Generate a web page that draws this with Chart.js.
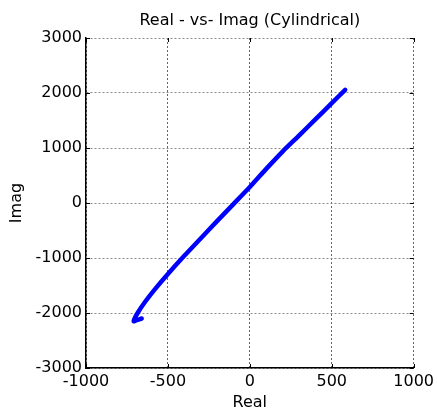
<!DOCTYPE html>
<html>
<head>
<meta charset="utf-8">
<title>Real - vs- Imag (Cylindrical)</title>
<script src="https://cdn.jsdelivr.net/npm/chart.js@4/dist/chart.umd.min.js"></script>
<style>
  html, body { margin: 0; padding: 0; background: #fff; }
  #wrap { width: 438px; height: 415px; }
</style>
</head>
<body>
<div id="wrap"><canvas id="plot"></canvas></div>
<script>
// trace of the complex response, real part vs imaginary part
const realValues = [582, 500, 400, 300, 200, 100, 0, -100, -200, -300, -400, -500, -580, -640, -685, -709, -690, -660];
const imagValues = [2057, 1815, 1520, 1225, 935, 620, 290, -20, -330, -645, -960, -1290, -1570, -1800, -2000, -2150, -2130, -2100];

const xTicks = [-1000, -500, 0, 500, 1000];
const yTicks = [-3000, -2000, -1000, 0, 1000, 2000, 3000];

const points = realValues.map((x, i) => ({ x, y: imagValues[i] }));

Chart.defaults.font.family = "'DejaVu Sans', sans-serif";
Chart.defaults.font.size = 16;
Chart.defaults.color = '#000';

// small inward tick marks on every side of the box
const innerTicks = {
  id: 'innerTicks',
  afterDraw(chart) {
    const { ctx, chartArea: a, scales: { x, y } } = chart;
    const len = 4;
    ctx.save();
    ctx.strokeStyle = '#000';
    ctx.lineWidth = 1;
    ctx.beginPath();
    x.ticks.forEach(t => {
      const px = Math.round(x.getPixelForValue(t.value)) + 0.5;
      ctx.moveTo(px, a.bottom); ctx.lineTo(px, a.bottom - len);
      ctx.moveTo(px, a.top); ctx.lineTo(px, a.top + len);
    });
    y.ticks.forEach(t => {
      const py = Math.round(y.getPixelForValue(t.value)) + 0.5;
      ctx.moveTo(a.left, py); ctx.lineTo(a.left + len, py);
      ctx.moveTo(a.right, py); ctx.lineTo(a.right - len, py);
    });
    ctx.stroke();
    ctx.restore();
  }
};

const plainNumber = v => String(v);

new Chart(document.getElementById('plot'), {
  type: 'scatter',
  data: {
    datasets: [{
      data: points,
      showLine: true,
      borderColor: '#0000ff',
      backgroundColor: '#0000ff',
      borderWidth: 4.5,
      borderCapStyle: 'round',
      borderJoinStyle: 'round',
      pointRadius: 0,
      tension: 0.2,
    }],
  },
  options: {
    responsive: true,
    maintainAspectRatio: false,
    animation: false,
    layout: { padding: { top: 0, right: 20, bottom: 0, left: 0 } },
    plugins: {
      legend: { display: false },
      tooltip: { enabled: false },
      title: {
        display: true,
        fullSize: false,
        text: 'Real - vs- Imag (Cylindrical)',
        font: { size: 16, weight: 'normal' },
        color: '#000',
        padding: { top: 11, bottom: 7.8 },
      },
    },
    scales: {
      x: {
        type: 'linear',
        min: -1000,
        max: 1000,
        afterBuildTicks: s => { s.ticks = xTicks.map(value => ({ value })); },
        afterFit: s => { s.height = 47; },
        ticks: { padding: 4, color: '#000', callback: plainNumber },
        grid: { color: '#666', lineWidth: 1, drawTicks: false },
        border: { color: '#000', width: 1.5, dash: [2, 2] },
        title: { display: true, text: 'Real', font: { size: 16 }, padding: { top: 0, bottom: 2.4 } },
      },
      y: {
        type: 'linear',
        min: -3000,
        max: 3000,
        afterBuildTicks: s => { s.ticks = yTicks.map(value => ({ value })); },
        afterFit: s => { s.width = 86; },
        ticks: { padding: 4, color: '#000', callback: plainNumber },
        grid: { color: '#888', lineWidth: 1, drawTicks: false },
        border: { color: '#000', width: 1.5, dash: [2, 2] },
        title: { display: true, text: 'Imag', font: { size: 16 }, padding: { top: 7.4, bottom: 0 } },
      },
    },
  },
  plugins: [innerTicks],
});
</script>
</body>
</html>
